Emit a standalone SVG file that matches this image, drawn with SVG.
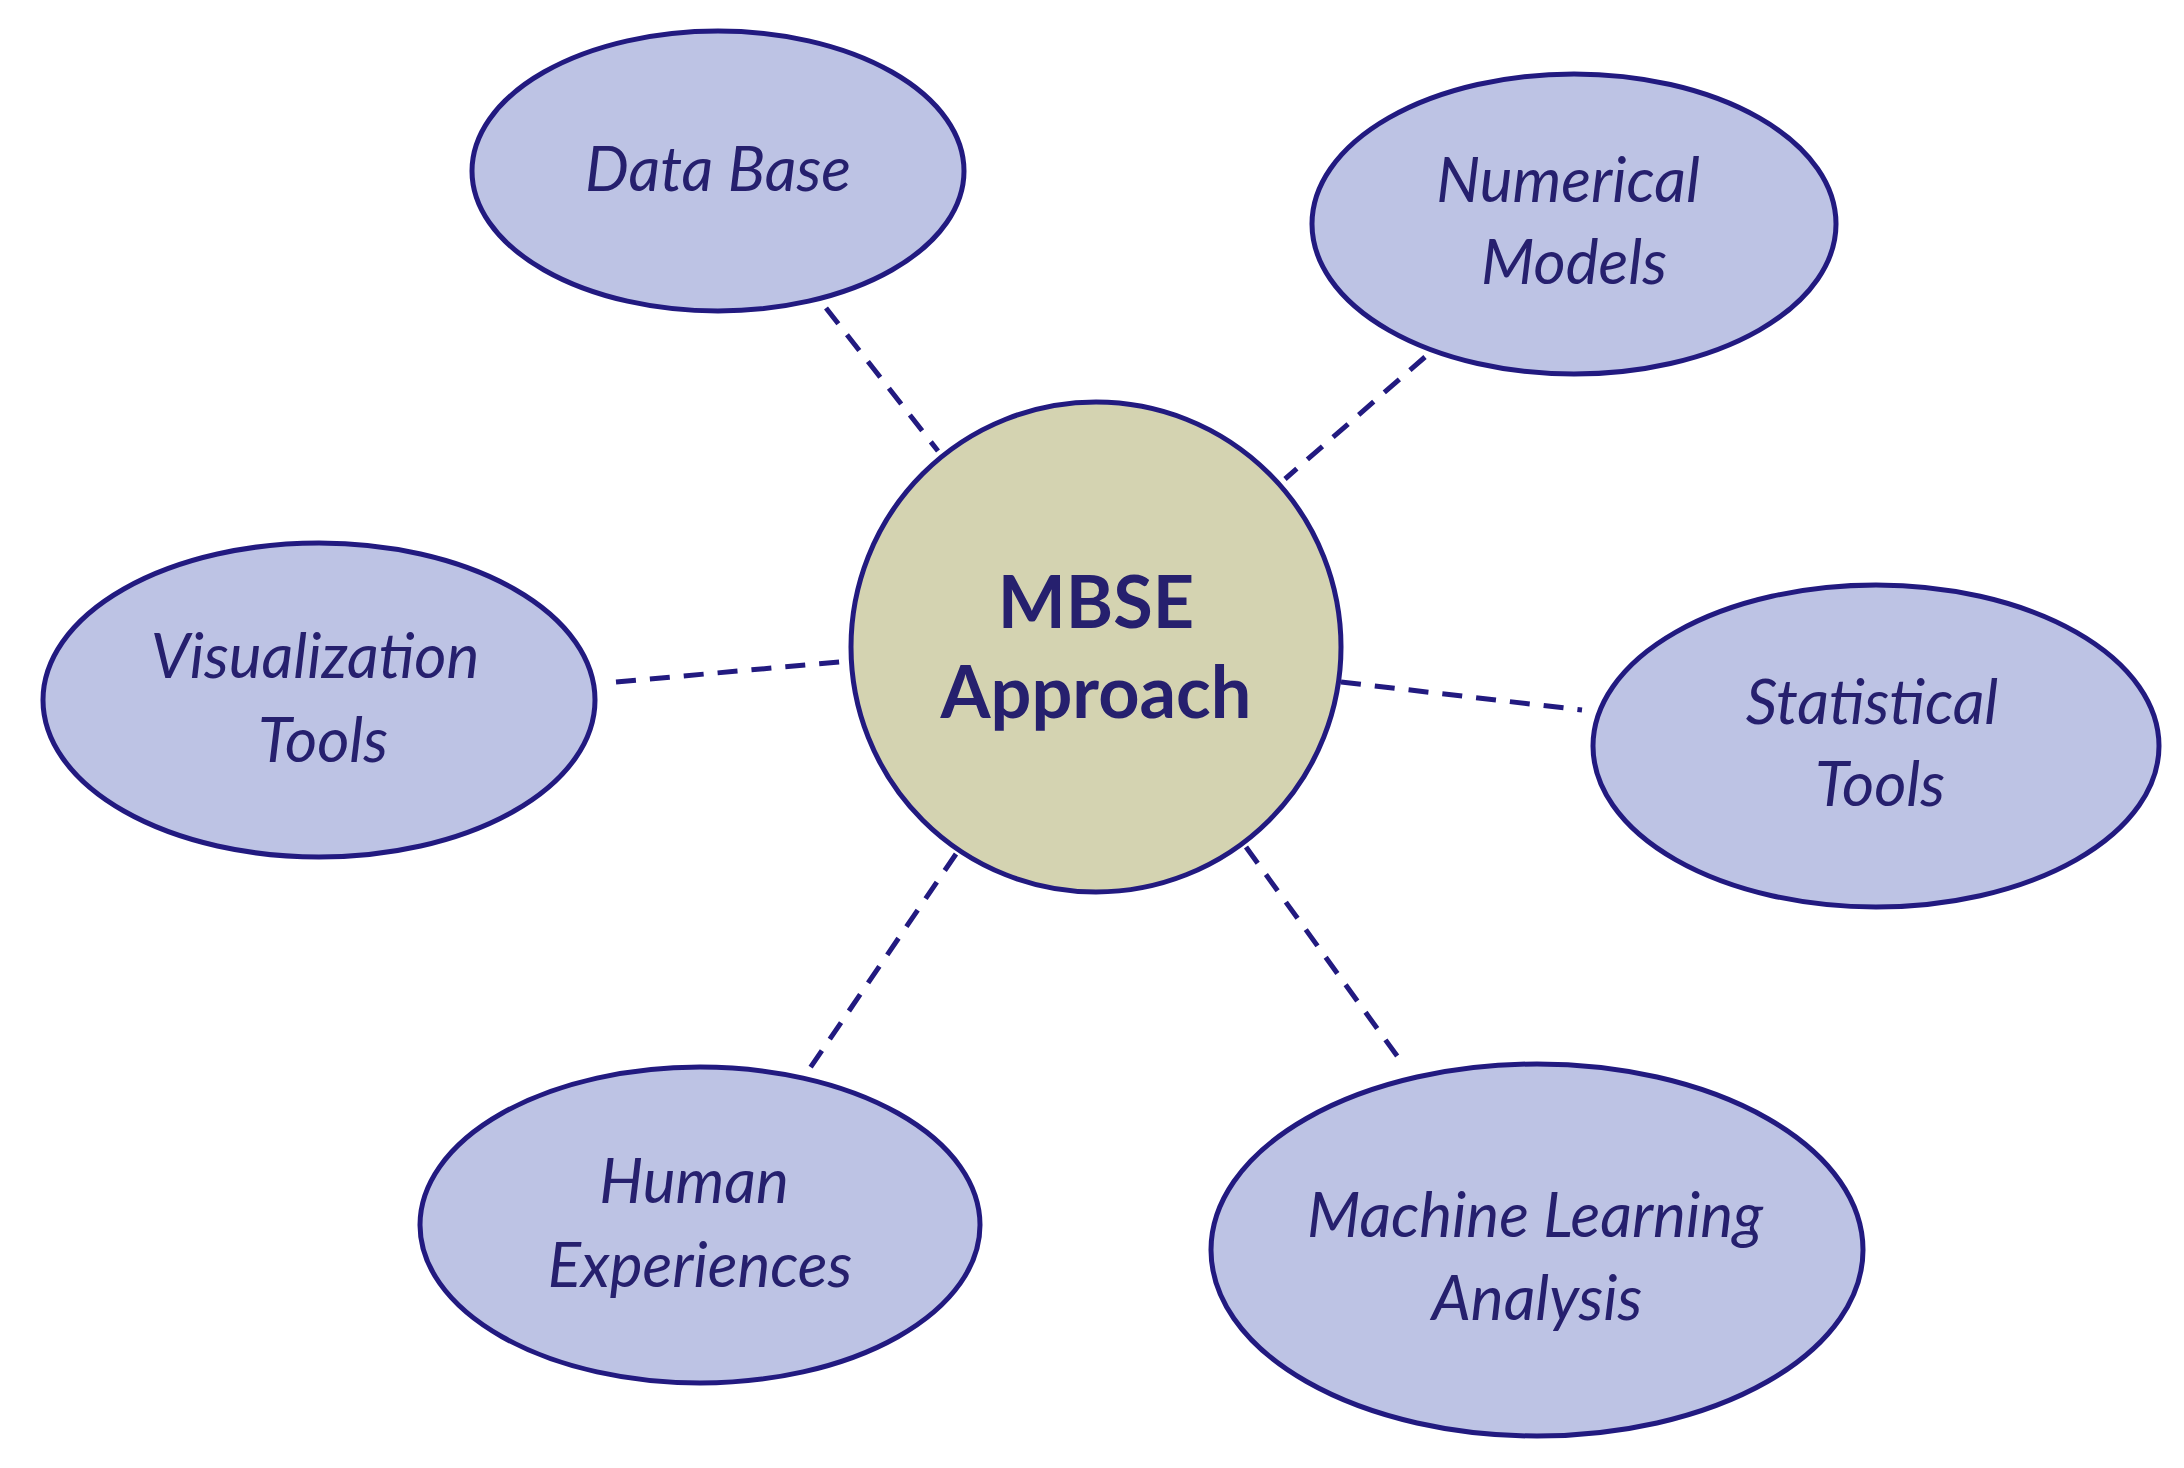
<svg xmlns="http://www.w3.org/2000/svg" width="2184" height="1468" viewBox="0 0 2184 1468">
<style>
.n{fill:#bdc3e4;stroke:#221a80;stroke-width:5}
.c{fill:#d4d3b1;stroke:#221a80;stroke-width:5}
.t{font-family:Lato,"Liberation Sans",sans-serif;font-style:italic;font-size:62px;fill:#26206e;text-anchor:middle}
.m{font-family:Lato,"Liberation Sans",sans-serif;font-weight:bold;font-size:72px;fill:#26206e;text-anchor:middle}
.d{stroke:#221a80;stroke-width:5;stroke-dasharray:20,14;fill:none}
</style>
<rect width="2184" height="1468" fill="#fff"/>
<g id="connectors">
<line class="d" x1="826" y1="308" x2="938" y2="451"/>
<line class="d" x1="1425" y1="357" x2="1285" y2="479"/>
<line class="d" x1="616" y1="682" x2="850" y2="661"/>
<line class="d" x1="1341" y1="682" x2="1582" y2="710"/>
<line class="d" x1="956" y1="854" x2="808" y2="1071"/>
<line class="d" x1="1246" y1="847" x2="1400" y2="1060"/>
</g>
<g id="mbse"><circle class="c" cx="1096" cy="647" r="245"/><text class="m" x="1096" y="628">MBSE</text><text class="m" x="1096" y="718">Approach</text></g>
<g id="database"><ellipse class="n" cx="718" cy="171" rx="246" ry="140"/><text class="t" x="718" y="191">Data Base</text></g>
<g id="numerical"><ellipse class="n" cx="1574" cy="224" rx="262" ry="150"/><text class="t" x="1568" y="202">Numerical</text><text class="t" x="1574" y="284">Models</text></g>
<g id="visualization"><ellipse class="n" cx="319" cy="700" rx="276" ry="157"/><text class="t" x="315" y="678">Visualization</text><text class="t" x="323" y="762">Tools</text></g>
<g id="statistical"><ellipse class="n" cx="1876" cy="746" rx="283" ry="161"/><text class="t" x="1872" y="724">Statistical</text><text class="t" x="1880" y="806">Tools</text></g>
<g id="human"><ellipse class="n" cx="700" cy="1225" rx="280" ry="158"/><text class="t" x="694" y="1203">Human</text><text class="t" x="700" y="1287">Experiences</text></g>
<g id="ml"><ellipse class="n" cx="1537" cy="1250" rx="326" ry="186"/><text class="t" x="1535" y="1237">Machine Learning</text><text class="t" x="1537" y="1320">Analysis</text></g>
</svg>
